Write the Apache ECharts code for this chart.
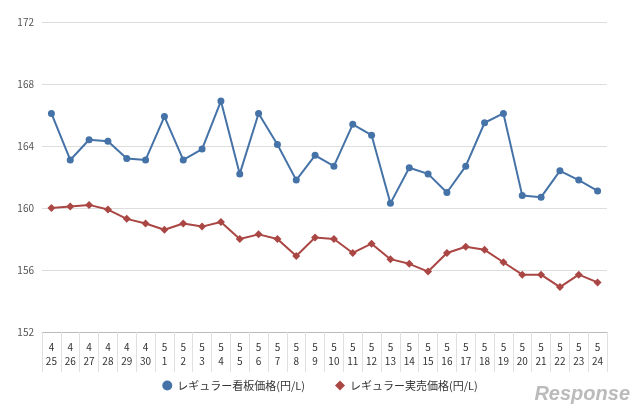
<!DOCTYPE html><html><head><meta charset="utf-8"><script src="https://cdn.jsdelivr.net/npm/echarts@6/dist/echarts.min.js"></script></head><body style="margin:0"><div id="c" style="width:640px;height:412px"></div><script>
const months=[4,4,4,4,4,4,5,5,5,5,5,5,5,5,5,5,5,5,5,5,5,5,5,5,5,5,5,5,5,5];
const days=[25,26,27,28,29,30,1,2,3,4,5,6,7,8,9,10,11,12,13,14,15,16,17,18,19,20,21,22,23,24];
const signPrice=[166.1,163.1,164.4,164.3,163.2,163.1,165.9,163.1,163.8,166.9,162.2,166.1,164.1,161.8,163.4,162.7,165.4,164.7,160.3,162.6,162.2,161.0,162.7,165.5,166.1,160.8,160.7,162.4,161.8,161.1];
const actualPrice=[160.0,160.1,160.2,159.9,159.3,159.0,158.6,159.0,158.8,159.1,158.0,158.3,158.0,156.9,158.1,158.0,157.1,157.7,156.7,156.4,155.9,157.1,157.5,157.3,156.5,155.7,155.7,154.9,155.7,155.2];
const cats=months.map((m,i)=>m+'\n'+days[i]);
const ch=echarts.init(document.getElementById('c'));
ch.setOption({
 textStyle:{fontFamily:'Noto Sans CJK JP'},
 grid:{left:42,right:33,top:22,bottom:80},
 legend:{bottom:16,left:'center',itemGap:30,itemWidth:10,itemHeight:10,textStyle:{fontSize:11,color:'#333'},
  data:[{name:'レギュラー看板価格(円/L)',icon:'circle'},{name:'レギュラー実売価格(円/L)',icon:'diamond'}]},
 xAxis:{type:'category',data:cats,boundaryGap:true,
  axisLine:{lineStyle:{color:'#bbb'}},axisTick:{show:true,length:40,lineStyle:{color:'#e0e0e0'}},
  axisLabel:{color:'#333',fontSize:10,lineHeight:14,interval:0}},
 yAxis:{type:'value',min:152,max:172,interval:4,
  axisLabel:{color:'#555',fontSize:10},splitLine:{lineStyle:{color:'#ddd'}},axisLine:{show:false},axisTick:{show:false}},
 series:[
  {name:'レギュラー看板価格(円/L)',type:'line',data:signPrice,symbol:'circle',symbolSize:7,color:'#4572A7',lineStyle:{width:2}},
  {name:'レギュラー実売価格(円/L)',type:'line',data:actualPrice,symbol:'diamond',symbolSize:8,color:'#AA4643',lineStyle:{width:2}}
 ],
 graphic:[{type:'text',right:10,bottom:8,style:{text:'Response',fill:'#bbb',font:'italic bold 20px Liberation Sans'}}]
});
</script></body></html>
